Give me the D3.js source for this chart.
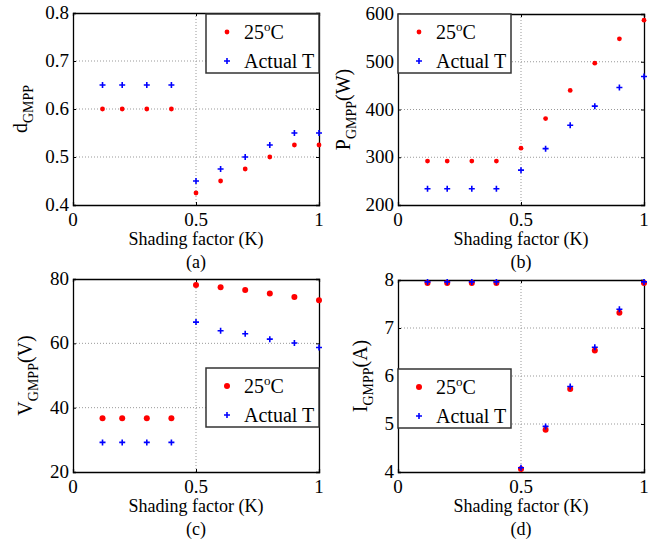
<!DOCTYPE html>
<meta charset="utf-8">
<head>
<script src="https://d3js.org/d3.v7.min.js"></script>
<style>
  body { margin: 0; background: #fff; }
</style>
</head>
<body>
<div id="chart"></div>
<script>
// shading factor K
var kVals = [0.12, 0.2, 0.3, 0.4, 0.5, 0.6, 0.7, 0.8, 0.9, 1.0];
var xTicks = [0, 0.5, 1];

// (a) duty cycle at GMPP
var d25 = [0.6, 0.6, 0.6, 0.6, 0.425, 0.45, 0.475, 0.5, 0.525, 0.525];
var dAct = [0.65, 0.65, 0.65, 0.65, 0.45, 0.475, 0.5, 0.525, 0.55, 0.55];
var dTicks = [0.4, 0.5, 0.6, 0.7, 0.8];

// (b) power at GMPP (W)
var p25 = [292, 292, 292, 292, 319, 381, 440, 497, 548, 587];
var pAct = [234, 234, 234, 234, 273, 318, 367, 407, 446, 469];
var pTicks = [200, 300, 400, 500, 600];

// (c) voltage at GMPP (V)
var v25 = [36.7, 36.7, 36.7, 36.7, 78.1, 77.4, 76.6, 75.5, 74.4, 73.4];
var vAct = [29.2, 29.2, 29.2, 29.2, 66.6, 63.9, 63.0, 61.3, 60.1, 58.7];
var vTicks = [20, 40, 60, 80];

// (d) current at GMPP (A)
var i25 = [7.94, 7.94, 7.94, 7.94, 4.06, 4.88, 5.73, 6.53, 7.32, 7.94];
var iAct = [7.96, 7.96, 7.96, 7.96, 4.09, 4.95, 5.78, 6.60, 7.39, 7.96];
var iTicks = [4, 5, 6, 7, 8];

// a single family name only, lists fell back to sans in the renderer
var FONT = "Times New Roman";
var tickFmt = {a: d3.format(".1f"), b: d3.format("d"), c: d3.format("d"), d: d3.format("d")};

var panels = [
  {id: "a", main: "d", unit: "", s1: d25, s2: dAct, ticks: dTicks,
   box: [73, 319, 13, 205], ylab: 27, leg: [206, 14], r: 2.4, plus: 3},
  {id: "b", main: "P", unit: "(W)", s1: p25, s2: pAct, ticks: pTicks,
   box: [398, 644, 14, 205], ylab: 350, leg: [398, 14], r: 2.4, plus: 3},
  {id: "c", main: "V", unit: "(V)", s1: v25, s2: vAct, ticks: vTicks,
   box: [73, 319, 279, 472], ylab: 32, leg: [206, 368], r: 3, plus: 3},
  {id: "d", main: "I", unit: "(A)", s1: i25, s2: iAct, ticks: iTicks,
   box: [398, 644, 280, 472], ylab: 367, leg: [398, 369], r: 3, plus: 3}
];

var svg = d3.select("#chart").append("svg")
    .attr("width", 656).attr("height", 541);

function txt(sel, size) {
    return sel.append("text").style("font-family", FONT).attr("font-size", size).attr("fill", "#000");
}

panels.forEach(function (p) {
    var x0 = p.box[0], x1 = p.box[1], y0 = p.box[2], y1 = p.box[3];
    var x = d3.scaleLinear().domain([0, 1]).range([x0, x1]);
    var y = d3.scaleLinear().domain(d3.extent(p.ticks)).range([y1, y0]);
    var g = svg.append("g");

    // dotted grid at interior ticks
    g.selectAll(".gx").data(xTicks.slice(1, -1)).enter().append("line")
        .attr("x1", d => x(d)).attr("x2", d => x(d))
        .attr("y1", y0).attr("y2", y1)
        .attr("stroke", "#999").attr("stroke-dasharray", "1,2");
    g.selectAll(".gy").data(p.ticks.slice(1, -1)).enter().append("line")
        .attr("x1", x0).attr("x2", x1)
        .attr("y1", d => y(d)).attr("y2", d => y(d))
        .attr("stroke", "#999").attr("stroke-dasharray", "1,2");

    // axes (inward ticks, mirrored)
    var ax = [
        [d3.axisBottom(x).tickValues(xTicks).tickSize(-3).tickFormat(""), "translate(0," + y1 + ")"],
        [d3.axisTop(x).tickValues(xTicks).tickSize(-3).tickFormat(""), "translate(0," + y0 + ")"],
        [d3.axisLeft(y).tickValues(p.ticks).tickSize(-3).tickFormat(""), "translate(" + x0 + ",0)"],
        [d3.axisRight(y).tickValues(p.ticks).tickSize(-3).tickFormat(""), "translate(" + x1 + ",0)"]
    ];
    ax.forEach(function (a) {
        var s = g.append("g").attr("transform", a[1]).call(a[0]);
        s.select(".domain").attr("stroke", "#000").attr("stroke-width", 1.3);
        s.selectAll(".tick line").attr("stroke", "#000");
    });

    // tick labels
    xTicks.forEach(function (d) {
        txt(g, 19).attr("x", x(d)).attr("y", y1 + 21)
            .attr("text-anchor", "middle").text(d3.format("")(d));
    });
    p.ticks.forEach(function (d) {
        txt(g, 19).attr("x", x0 - 4).attr("y", y(d) + 6)
            .attr("text-anchor", "end").text(tickFmt[p.id](d));
    });

    // labels
    txt(g, 18).attr("x", (x0 + x1) / 2).attr("y", y1 + 40)
        .attr("text-anchor", "middle").text("Shading factor (K)");
    txt(g, 18).attr("x", (x0 + x1) / 2).attr("y", y1 + 63)
        .attr("text-anchor", "middle").text("(" + p.id + ")");
    var yl = txt(g, 20)
        .attr("transform", "translate(" + p.ylab + "," + (y0 + y1) / 2 + ") rotate(-90)")
        .attr("text-anchor", "middle");
    yl.append("tspan").text(p.main);
    yl.append("tspan").attr("dy", 6).attr("font-size", 14).text("GMPP");
    if (p.unit) yl.append("tspan").attr("dy", -6).text(p.unit);

    // markers
    var pts1 = kVals.map((k, i) => [k, p.s1[i]]);
    var pts2 = kVals.map((k, i) => [k, p.s2[i]]);
    g.selectAll(".m1").data(pts1).enter().append("circle")
        .attr("cx", d => x(d[0])).attr("cy", d => y(d[1])).attr("r", p.r)
        .attr("fill", "#ff0000");
    g.selectAll(".m2").data(pts2).enter().append("path")
        .attr("d", d => "M" + (x(d[0]) - p.plus) + "," + y(d[1]) + "h" + 2 * p.plus +
            "M" + x(d[0]) + "," + (y(d[1]) - p.plus) + "v" + 2 * p.plus)
        .attr("stroke", "#0000ff").attr("stroke-width", 1.6);

    // legend
    var lx = p.leg[0], ly = p.leg[1];
    var lg = g.append("g").attr("transform", "translate(" + lx + "," + ly + ")");
    lg.append("rect").attr("width", 113).attr("height", 59)
        .attr("fill", "#fff").attr("stroke", "#333").attr("stroke-width", 1.5);
    lg.append("circle").attr("cx", 21).attr("cy", 18).attr("r", p.r).attr("fill", "#ff0000");
    lg.append("path")
        .attr("d", "M" + (21 - p.plus) + ",47h" + 2 * p.plus + "M21," + (47 - p.plus) + "v" + 2 * p.plus)
        .attr("stroke", "#0000ff").attr("stroke-width", 1.6);
    var t1 = txt(lg, 20).attr("x", 38).attr("y", 25);
    t1.append("tspan").text("25");
    t1.append("tspan").attr("dy", -8).attr("font-size", 13).text("o");
    t1.append("tspan").attr("dy", 8).text("C");
    txt(lg, 20).attr("x", 38).attr("y", 54).text("Actual T");
});
</script>
</body>
</html>
